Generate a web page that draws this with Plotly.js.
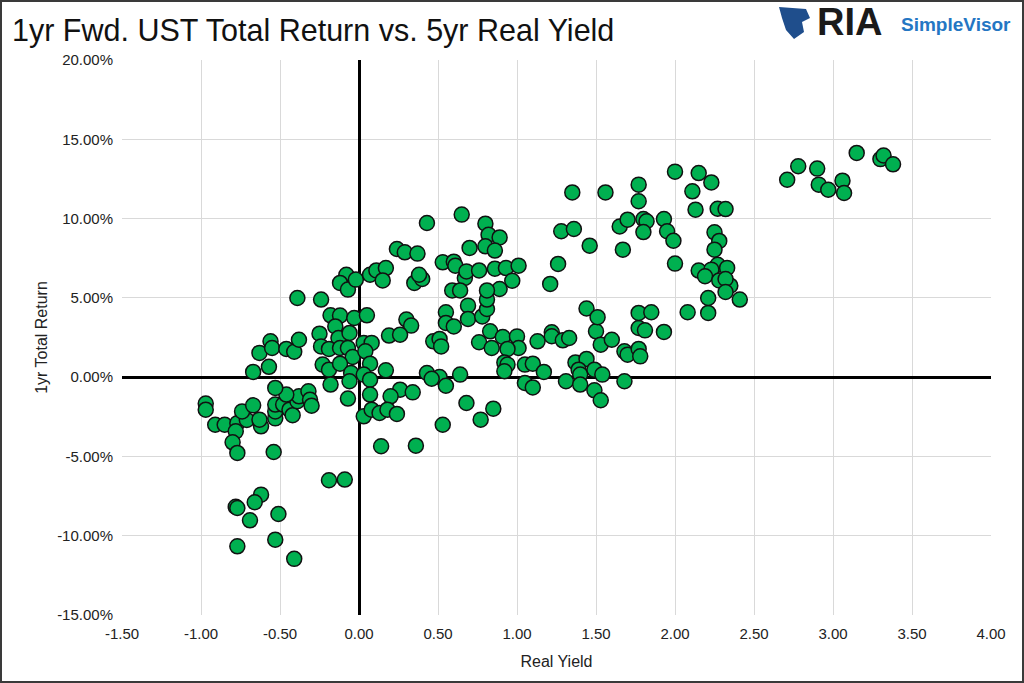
<!DOCTYPE html>
<html>
<head>
<meta charset="utf-8">
<script src="https://cdn.plot.ly/plotly-3.0.1.min.js"></script>
<style>
  html, body { margin: 0; padding: 0; background: #fff; }
  #wrap { position: relative; width: 1024px; height: 683px; }
  #chart { width: 1024px; height: 683px; }
  #frame { position: absolute; left: 0; top: 0; width: 1024px; height: 683px; box-sizing: border-box; border: 2px solid #3a3a3a; pointer-events: none; }
</style>
</head>
<body>
<div id="wrap"><div id="chart"></div><div id="frame"></div></div>
<script>
// Real yield (x) and 1yr forward total return in % (y)
const realYield = [
  -0.97,-0.97,-0.91,-0.85,-0.77,-0.71,-0.62,-0.74,-0.67,-0.63,-0.78,-0.80,-0.77,-0.54,-0.53,-0.53,-0.53,-0.48,-0.44,-0.42,
  -0.39,-0.38,-0.46,-0.53,-0.32,-0.31,-0.30,
  -0.19,-0.09,-0.62,-0.66,-0.78,-0.77,-0.69,-0.51,-0.53,-0.77,-0.41,
  -0.67,-0.57,-0.63,-0.56,-0.55,-0.46,-0.41,-0.38,-0.39,
  -0.24,-0.18,-0.12,-0.03,-0.15,-0.25,-0.13,-0.06,-0.24,-0.19,-0.12,-0.07,-0.04,-0.23,-0.19,-0.12,-0.05,-0.18,-0.06,-0.07,
  -0.08,-0.12,-0.07,-0.02,
  0.05,0.03,0.08,0.04,0.07,0.17,0.03,0.07,0.07,0.26,0.34,0.20,0.03,0.08,0.13,0.18,0.24,0.14,0.36,
  0.30,0.33,0.19,0.26,0.07,0.11,0.17,0.15,0.24,0.29,0.37,0.35,0.40,0.38,0.43,
  0.47,0.51,0.52,0.55,0.55,0.60,0.69,0.69,0.78,0.81,0.81,0.76,0.83,0.84,0.91,1.00,1.01,0.94,0.92,0.94,0.92,
  0.43,0.51,0.55,0.64,0.68,0.85,0.77,0.53,0.46,
  0.65,0.80,0.82,0.89,0.80,0.86,0.70,0.53,0.60,0.61,0.67,0.68,0.76,0.86,0.93,1.01,0.97,0.89,0.81,0.59,0.64,
  1.13,1.22,1.22,1.29,1.33,1.05,1.10,1.17,1.05,1.10,1.31,1.37,1.44,1.39,1.40,1.40,1.49,1.54,1.49,1.53,1.68,
  1.50,1.53,1.60,1.44,1.51,1.68,1.70,1.77,1.78,1.77,1.81,1.93,1.77,1.85,2.08,2.21,
  1.35,1.56,1.77,1.77,1.28,1.36,1.46,1.65,1.70,1.80,1.82,1.80,1.93,1.95,1.99,1.67,2.00,1.26,1.21,
  2.00,2.15,2.23,2.11,2.13,2.27,2.32,2.25,2.28,2.25,2.27,2.33,2.15,2.23,2.19,2.28,2.35,2.32,2.32,2.41,2.21,
  2.71,2.78,2.90,2.91,2.97,3.06,3.07,3.15,3.30,3.32,3.38
];
const totalReturn = [
  -1.67,-2.05,-3.00,-3.00,-2.90,-2.70,-3.10,-2.16,-1.78,-2.68,-3.42,-4.11,-4.78,-4.72,-2.60,-2.16,-1.73,-1.73,-2.05,-2.40,
  -1.52,-1.21,-1.10,-0.68,-0.89,-1.42,-1.80,
  -6.50,-6.46,-7.41,-7.89,-8.18,-8.25,-9.03,-8.63,-10.25,-10.67,-11.46,
  0.33,0.65,1.53,2.26,1.84,1.78,1.60,2.36,4.99,
  4.89,3.90,3.88,3.73,3.20,2.74,2.47,2.79,1.94,1.78,1.84,1.84,1.27,0.79,0.47,0.85,0.26,-0.47,-0.26,-1.35,
  6.46,5.94,5.52,6.15,
  3.90,2.16,2.16,1.63,0.85,0.43,0.16,-0.16,-1.10,-0.79,-0.96,-1.21,-2.47,-2.05,-2.26,-2.05,-2.32,-4.36,-4.32,
  3.63,3.25,2.62,2.68,6.46,6.73,6.88,6.10,8.08,7.87,7.79,5.94,6.19,6.46,9.72,
  2.26,2.41,1.94,4.09,3.42,3.20,4.51,3.67,3.83,4.30,4.89,2.20,2.89,1.84,2.53,2.57,1.84,1.78,0.93,0.79,0.37,
  0.26,0.01,-0.54,0.16,-1.63,-1.99,-2.68,-3.00,-0.10,
  10.25,9.68,8.98,8.81,8.25,7.98,8.15,7.24,7.28,7.03,6.25,6.67,6.73,6.84,6.88,7.03,6.08,5.56,5.47,5.47,5.47,
  2.26,2.83,2.58,2.32,2.47,0.79,0.85,0.33,-0.37,-0.65,-0.26,0.93,1.15,0.47,0.16,-0.47,0.47,0.16,-0.83,-1.46,-0.26,
  2.89,2.05,2.36,4.33,3.78,1.63,1.42,1.78,1.31,3.10,2.95,2.85,4.05,4.09,4.09,4.05,
  11.65,11.65,12.14,11.09,9.20,9.34,8.29,9.50,9.93,9.97,9.83,9.15,9.97,9.20,8.60,8.04,7.16,7.14,5.88,
  12.96,12.87,12.28,11.72,10.56,10.62,10.60,9.13,8.59,8.04,7.09,6.89,6.72,6.78,6.36,6.10,5.77,6.19,5.37,4.89,4.99,
  12.45,13.30,13.15,12.14,11.82,12.39,11.61,14.14,13.75,13.98,13.42
];
const xTickVals = [-1.5,-1,-0.5,0,0.5,1,1.5,2,2.5,3,3.5,4];
const xTickText = ['-1.50','-1.00','-0.50','0.00','0.50','1.00','1.50','2.00','2.50','3.00','3.50','4.00'];
const yTickVals = [-15,-10,-5,0,5,10,15,20];
const yTickText = ['-15.00%','-10.00%','-5.00%','0.00%','5.00%','10.00%','15.00%','20.00%'];

const baseFont = '"Liberation Sans", Arial, sans-serif';
const tickFont = {family: baseFont, size: 15, color: '#222'};

// paper coordinate helpers (plot area spans 122..991 px horizontally, 60..615 px vertically)
const px = v => (v - 122) / 869;
const py = v => (615 - v) / 555;

const trace = {
  x: realYield,
  y: totalReturn,
  type: 'scatter',
  mode: 'markers',
  marker: {size: 15, color: '#00B050', line: {color: '#111', width: 1.5}},
  hoverinfo: 'x+y'
};

const layout = {
  width: 1024, height: 683,
  margin: {l: 122, r: 33, t: 60, b: 68},
  paper_bgcolor: '#fff', plot_bgcolor: '#fff',
  showlegend: false,
  title: {
    text: '1yr Fwd. UST Total Return vs. 5yr Real Yield',
    font: {family: baseFont, size: 30.5, color: '#111'},
    x: 12 / 1024, xanchor: 'left', xref: 'container', y: 1 - 30 / 683, yanchor: 'middle', yref: 'container'
  },
  xaxis: {
    range: [-1.5, 4], tickvals: xTickVals, ticktext: xTickText,
    showgrid: true, gridcolor: '#d9d9d9', gridwidth: 1,
    zeroline: true, zerolinecolor: '#000', zerolinewidth: 3,
    showline: false, ticks: '', tickfont: tickFont, ticklabelstandoff: 8,
    title: {text: 'Real Yield', font: {family: baseFont, size: 16, color: '#222'}, standoff: 14}
  },
  yaxis: {
    range: [-15, 20], tickvals: yTickVals, ticktext: yTickText,
    showgrid: true, gridcolor: '#d9d9d9', gridwidth: 1,
    zeroline: true, zerolinecolor: '#000', zerolinewidth: 3,
    showline: false, ticks: '', tickfont: tickFont, ticklabelstandoff: 8,
    title: {text: '1yr Total Return', font: {family: baseFont, size: 16, color: '#222'}, standoff: 5}
  },
  annotations: [
    {xref: 'paper', yref: 'paper', x: px(815), y: py(22), xanchor: 'left', yanchor: 'middle', showarrow: false,
     text: '<b>RIA</b>', font: {family: baseFont, size: 38, color: '#1a1a1a'}},
    {xref: 'paper', yref: 'paper', x: px(899), y: py(25), xanchor: 'left', yanchor: 'middle', showarrow: false,
     text: '<b>SimpleVisor</b>', font: {family: baseFont, size: 19, color: '#2476c3'}}
  ],
  shapes: [
    {type: 'path', xref: 'paper', yref: 'paper', layer: 'above',
     path: 'M ' + px(779) + ' ' + py(7) + ' L ' + px(806) + ' ' + py(9) + ' L ' + px(810) + ' ' + py(18) +
           ' L ' + px(802) + ' ' + py(22) + ' L ' + px(804) + ' ' + py(32) + ' L ' + px(794) + ' ' + py(39) +
           ' L ' + px(786) + ' ' + py(30) + ' L ' + px(782) + ' ' + py(18) + ' Z',
     fillcolor: '#1f4e8c', line: {width: 0}}
  ]
};

Plotly.newPlot('chart', [trace], layout, {displayModeBar: false, staticPlot: true});
</script>
</body>
</html>
